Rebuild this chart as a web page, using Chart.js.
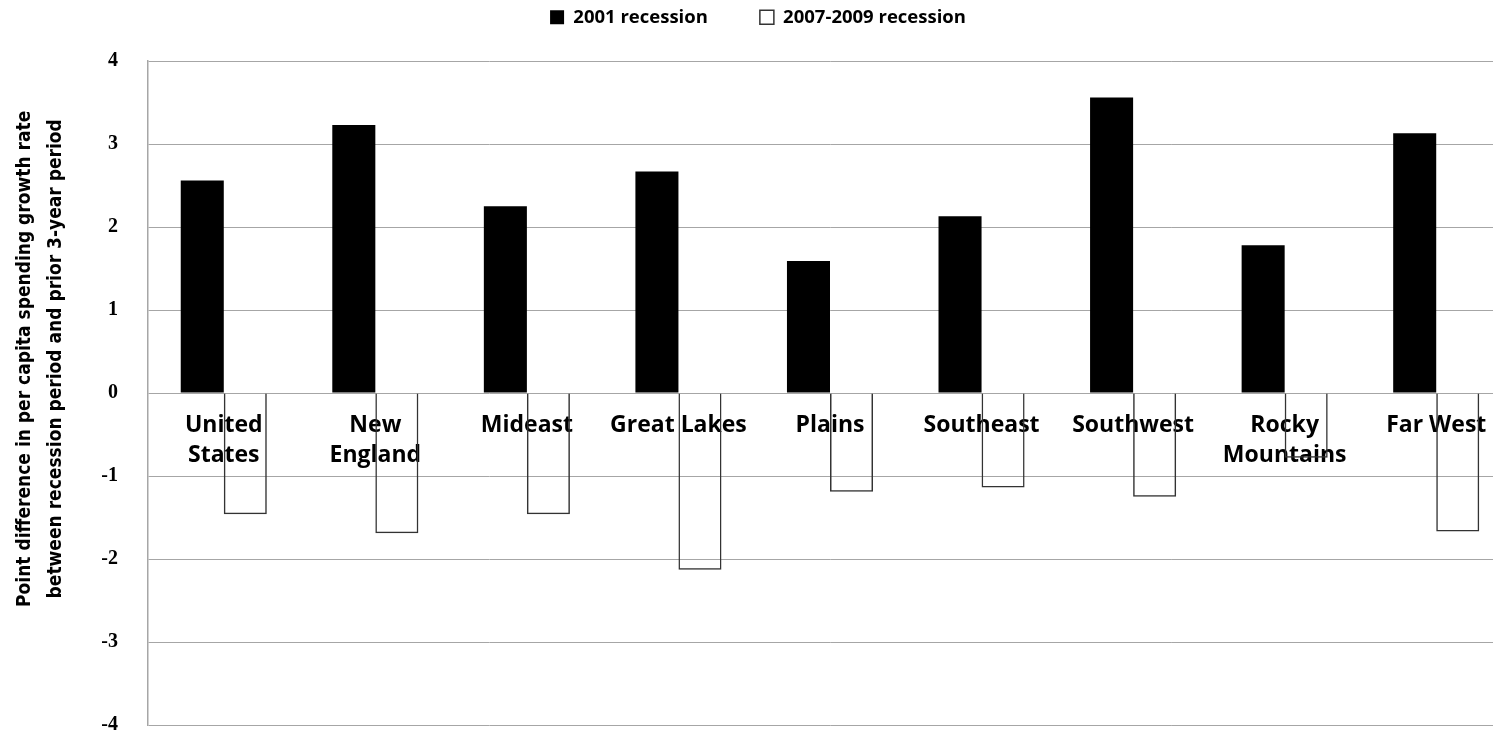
<!DOCTYPE html>
<html>
<head>
<meta charset="utf-8">
<script src="https://cdn.jsdelivr.net/npm/chart.js@4"></script>
<style>
  html, body { margin: 0; background: #fff; overflow: hidden; }
  /* o grafico original e cortado na borda direita */
  #wrap { width: 1512px; height: 736px; position: relative; }
</style>
</head>
<body>
<div id="wrap"><canvas id="grafico"></canvas></div>
<script>
// regioes e valores
const regioes = [
  ['United', 'States'], ['New', 'England'], 'Mideast', 'Great Lakes', 'Plains',
  'Southeast', 'Southwest', ['Rocky', 'Mountains'], 'Far West'
];
const recessao2001 = [2.56, 3.23, 2.25, 2.67, 1.59, 2.13, 3.56, 1.78, 3.13];
const recessao2007 = [-1.46, -1.69, -1.46, -2.13, -1.19, -1.14, -1.25, -0.78, -1.67];
const ticksY = [4, 3, 2, 1, 0, -1, -2, -3, -4];

const fonteRotulo = "'Open Sans', 'Lato', sans-serif";
const corGrade = '#a6a6a6';
// o titulo do eixo fica um pouco acima do centro no original
const recuoTitulo = '\u2003'.repeat(4);

const ctx = document.getElementById('grafico').getContext('2d');
const grafico = new Chart(ctx, {
  type: 'bar',
  data: {
    labels: regioes,
    datasets: [{
      label: '2001 recession',
      data: recessao2001,
      backgroundColor: '#000000',
      borderColor: '#000000',
      borderWidth: 0
    }, {
      label: '2007-2009 recession',
      data: recessao2007,
      backgroundColor: 'rgba(255,255,255,0)',
      borderColor: '#333333',
      borderWidth: 1.5
    }]
  },
  options: {
    responsive: true,
    maintainAspectRatio: false,
    animation: false,
    events: [],
    layout: { padding: { left: 4, right: 0, top: -44, bottom: 0 } },
    datasets: {
      bar: { barPercentage: 1, categoryPercentage: 0.568 }
    },
    scales: {
      x: {
        position: { y: 0 },
        afterFit: axis => {
          axis.paddingLeft = 0;
          axis.paddingRight = 0;
        },
        grid: { display: false, drawTicks: false },
        border: { display: false },
        ticks: {
          color: '#000',
          padding: 18,
          maxRotation: 0,
          autoSkip: false,
          font: { family: fonteRotulo, size: 23, weight: 'bold', lineHeight: 1.3 }
        }
      },
      y: {
        min: -4,
        max: 4,
        afterBuildTicks: axis => { axis.ticks = ticksY.map(v => ({ value: v })); },
        afterFit: axis => {
          axis.width = 144;
          axis.paddingBottom = 11;
        },
        grid: { color: corGrade, lineWidth: 1, drawTicks: false },
        border: { color: corGrade, width: 1.5 },
        ticks: {
          color: '#000',
          padding: 30,
          font: { family: "'Liberation Serif', serif", size: 20, weight: 'bold' }
        },
        title: {
          display: true,
          text: [recuoTitulo + 'Point difference in per capita spending growth rate',
                 recuoTitulo + 'between recession period and prior 3-year period'],
          color: '#000',
          padding: { top: 5, bottom: 0 },
          font: { family: "'Liberation Sans Narrow', 'DejaVu Sans Condensed', sans-serif", size: 19, weight: 'bold', lineHeight: 1.65 }
        }
      }
    },
    plugins: {
      legend: {
        position: 'top',
        weight: 3000,
        labels: {
          color: '#000',
          boxWidth: 14,
          boxHeight: 14,
          padding: 52,
          font: { family: fonteRotulo, size: 18.5, weight: 'bold' }
        }
      },
      // espaco entre a legenda e o grafico
      subtitle: {
        display: true,
        text: ' ',
        position: 'top',
        font: { size: 10, lineHeight: 1 },
        padding: { top: 0, bottom: 14.5 }
      },
      tooltip: { enabled: false }
    }
  }
});
</script>
</body>
</html>
